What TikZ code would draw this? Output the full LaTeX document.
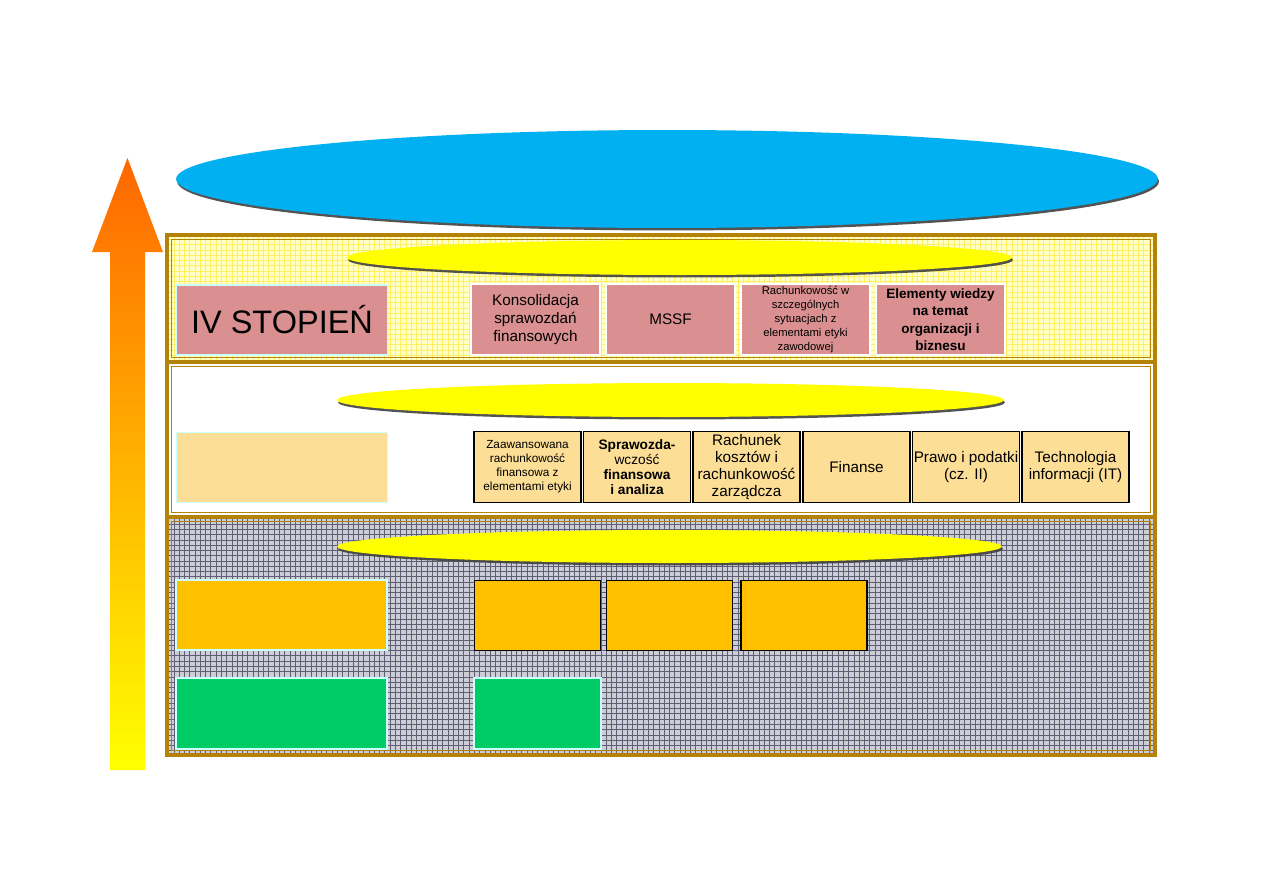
\documentclass[tikz,border=0pt]{standalone}
\usepackage{fontspec}
\setmainfont{Liberation Sans}
\usepackage{xcolor}
\usepackage{tikz}
\usetikzlibrary{shapes.geometric,shadows,patterns}

\definecolor{frame}{RGB}{181,130,8}
\definecolor{pinkbox}{RGB}{218,144,144}
\definecolor{paleorange}{RGB}{252,222,150}
\definecolor{amber}{RGB}{255,192,0}
\definecolor{leafgreen}{RGB}{0,204,102}
\definecolor{skyblue}{RGB}{0,176,240}
\definecolor{arrowtop}{RGB}{255,102,0}
\definecolor{pureyellow}{RGB}{255,255,0}
\definecolor{lightcyan}{RGB}{204,255,255}
\definecolor{paleyellow}{RGB}{255,255,200}
\definecolor{gridyellow}{RGB}{255,238,100}
\definecolor{palegrey}{RGB}{205,205,215}
\definecolor{gridgrey}{RGB}{95,95,115}

\begin{document}
\begin{tikzpicture}[
    x=0.02cm, y=-0.02cm,
    bandline/.style  = {draw=frame, line width=2.2pt},
    bandinner/.style = {draw=frame, line width=0.6pt},
    oval/.style      = {ellipse, inner sep=0pt, fill=pureyellow,
                        drop shadow={shadow xshift=0.6pt, shadow yshift=-1.4pt,
                                     fill=black!75, opacity=0.9}},
    lead/.style      = {minimum width=4.22cm, minimum height=1.40cm, inner sep=0pt,
                        draw=lightcyan, line width=0.8pt},
    topbox/.style    = {fill=pinkbox, draw=white, line width=1pt, inner sep=0pt,
                        minimum width=2.58cm, minimum height=1.42cm, align=center,
                        font=\fontsize{8.7}{10.2}\selectfont},
    midbox/.style    = {fill=paleorange, draw=black, line width=1.1pt, inner sep=0pt,
                        minimum width=2.14cm, minimum height=1.42cm, align=center,
                        font=\fontsize{8.7}{9.8}\selectfont},
    lowbox/.style    = {fill=amber, draw=black, line width=1.1pt, inner sep=0pt,
                        minimum width=2.52cm, minimum height=1.40cm},
    greenbox/.style  = {fill=leafgreen, draw=lightcyan, line width=0.6pt, inner sep=0pt,
                        minimum height=1.42cm},
    tiny/.style      = {font=\fontsize{6.4}{7.9}\selectfont},
]
\useasboundingbox (0,0) rectangle (1263,893);

%======== rising arrow ========
\shade[top color=arrowtop, bottom color=pureyellow]
  (110,770) -- (145,770) -- (145,252) -- (163,252) -- (127.5,158)
  -- (92,252) -- (110,252) -- cycle;

%======== top goal ========
\node[oval, fill=skyblue, minimum width=19.64cm, minimum height=1.96cm]
  (goal) at (667,179) {};

%======== bands ========
% --- upper band (yellow grid)
\fill[paleyellow] (167,235) rectangle (1155,360);
\fill[pattern=grid, pattern color=gridyellow] (167,235) rectangle (1155,360);
% --- middle band (white)
\fill[white] (167,364) rectangle (1155,515);
% --- lower band (grey grid)
\fill[palegrey] (167,519) rectangle (1155,755);
\fill[pattern=grid, pattern color=gridgrey] (167,519) rectangle (1155,755);

\draw[bandline]  (167,235) rectangle (1155,362);
\draw[bandinner] (171.5,239.5) rectangle (1150.5,357.5);
\draw[bandline]  (167,362) rectangle (1155,517);
\draw[bandinner] (171.5,366.5) rectangle (1150.5,512.5);
\draw[bandline]  (167,517) rectangle (1155,755);
\draw[bandinner] (171.5,521.5) rectangle (1150.5,750.5);

%======== level IV ========
\node[oval, minimum width=13.3cm, minimum height=0.70cm] (ovaltop) at (679.5,257.5) {};
\node[lead, fill=pinkbox, font=\fontsize{18.5}{20}\selectfont] (lvlfour) at (282,320) {IV STOPIEŃ};
\node[topbox] (konsol) at (535.5,319.5) {Konsolidacja\\sprawozdań\\finansowych};
\node[topbox] (mssf)   at (670.5,319.5) {MSSF};
\node[topbox, tiny] (szczeg) at (805.5,319.5)
  {Rachunkowość w\\szczególnych\\sytuacjach z\\elementami etyki\\zawodowej};
\node[topbox, font=\fontsize{7.7}{9.9}\selectfont\bfseries] (wiedza) at (940.5,319.5)
  {Elementy wiedzy\\na temat\\organizacji i\\biznesu};

%======== level III ========
\node[oval, minimum width=13.34cm, minimum height=0.68cm] (ovalmid) at (670.5,400) {};
\node[lead, fill=paleorange] (lvlthree) at (282,467.5) {};
\node[midbox, font=\fontsize{6.7}{8}\selectfont] (zaaw) at (527.5,467)
  {Zaawansowana\\rachunkowość\\finansowa z\\elementami etyki};
\node[midbox, font=\fontsize{7.8}{8.4}\selectfont\bfseries] (sprawoz) at (637,467)
  {Sprawozda-\\\mdseries wczość\\finansowa\\i analiza};
\node[midbox] (koszty)  at (746.5,467) {Rachunek\\kosztów i\\rachunkowość\\zarządcza};
\node[midbox] (finanse) at (856.5,467) {Finanse};
\node[midbox] (prawo)   at (966,467)   {Prawo i podatki\\(cz. II)};
\node[midbox] (techit)  at (1075.5,467) {Technologia\\informacji (IT)};

%======== levels I-II ========
\node[oval, minimum width=13.3cm, minimum height=0.66cm] (ovallow) at (669.5,546.5) {};
\node[lead, fill=amber] (lvltwo) at (281.5,615) {};
\node[lowbox] (amberA) at (537.5,615.5) {};
\node[lowbox] (amberB) at (669.5,615.5) {};
\node[lowbox] (amberC) at (804,615.5) {};
\node[greenbox, minimum width=4.22cm] (lvlone) at (281.5,713.5) {};
\node[greenbox, minimum width=2.54cm] (greenA) at (537.5,713.5) {};

\end{tikzpicture}
\end{document}
